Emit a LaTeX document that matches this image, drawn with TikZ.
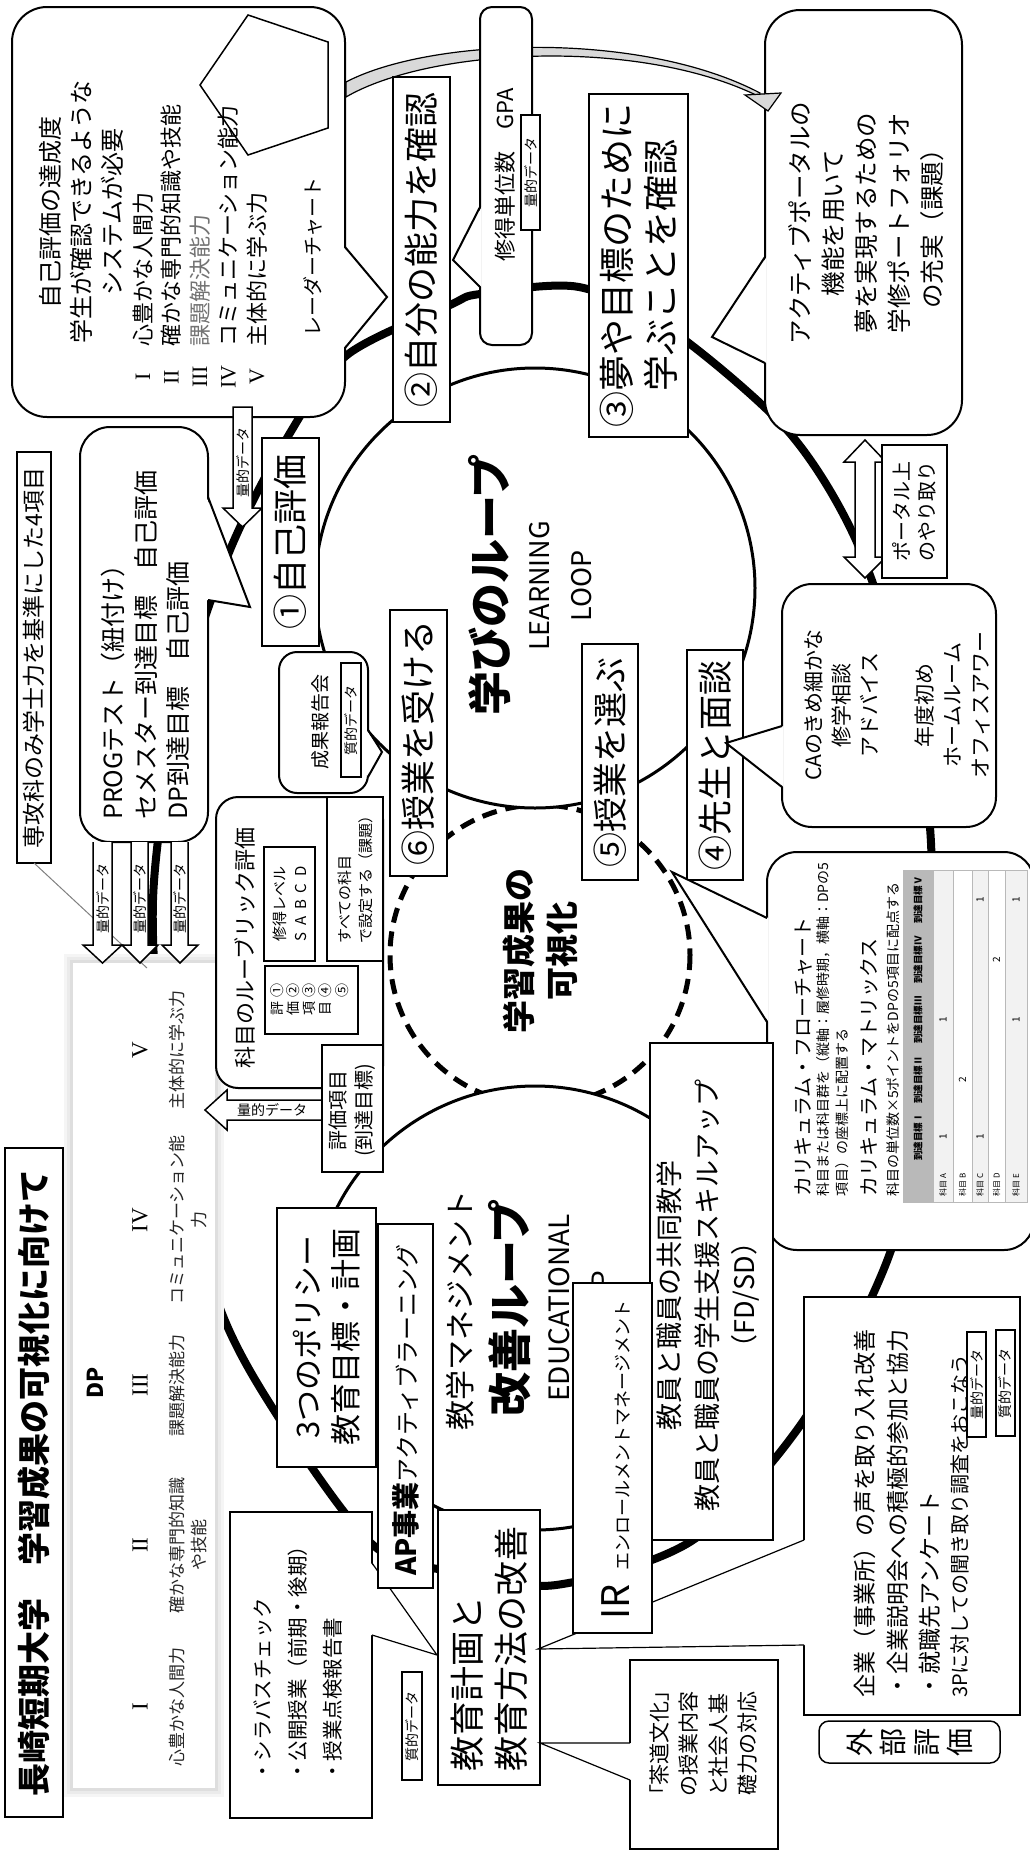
\documentclass[tikz,border=0pt]{standalone}
\usepackage{fontspec}
\setmainfont{Noto Sans CJK JP}
\newfontfamily\rmn{Liberation Serif}
\newcommand\fsz[2]{\fontsize{#1}{#2}\selectfont}
\newcommand\bxn[6][]{\node[bx,#1,minimum width={(#6)-(#4)},minimum height={(#5)-(#3)}] (#2) at ({((#3)+(#5))/2},{((#4)+(#6))/2}) {};}
\tikzset{
 bx/.style={draw,line width=2pt,fill=white,rotate=90,inner sep=0pt,outer sep=0pt},
 tx/.style={rotate=90,inner sep=0pt,align=center},
 pl/.style={line width=2pt,line join=miter},
 tl/.style={line width=1.2pt,line join=miter},
 lbl/.style={draw,line width=1.2pt,fill=white,rotate=90,inner sep=0pt,font=\fsz{14}{16}},
 barrow/.style={draw,line width=1.5pt,fill=white,line join=miter},
 loopln/.style={line width=8pt},
 thincirc/.style={line width=3pt,fill=white},
 dashcirc/.style={line width=5pt,dash pattern=on 15pt off 9pt},
}
\begin{document}
\begin{tikzpicture}[x=1pt,y=-1pt]
\fill[white] (0,0) rectangle (1030,1850);
\useasboundingbox (0,0) rectangle (1030,1850);

% outer thick loop
\draw[loopln] plot[smooth cycle] coordinates {(579,287) (671,330) (787,430) (855,538) (906,690) (931,843) (925,1080) (890,1253) (804,1420) (693,1540) (556,1585) (455,1572) (373,1545) (277,1415) (217,1300) (168,1100) (153,900) (181,700) (230,550) (290,433) (347,355) (450,305) (480,294)};
% circles
\draw[dashcirc] (540,955) circle[radius=150];
\draw[thincirc] (535,588) circle[radius=220];
\draw[thincirc] (535,1308) circle[radius=222];

% texts inside loops
\node[tx,font=\bfseries\fsz{44}{50}] (lt) at (490,585) {学びのループ};
\node[tx,font=\fsz{27}{42}] (ll) at (561,586) {LEARNING\\LOOP};
\node[tx,font=\bfseries\fsz{33}{43}] (vt) at (540,951) {学習成果の\\可視化};
\node[tx,font=\fsz{30}{36}] (em) at (460,1310) {教学マネジメント};
\node[tx,font=\bfseries\fsz{44}{50}] (el) at (510,1308) {改善ループ};
\node[tx,font=\fsz{28}{43}] (ed) at (581,1308) {EDUCATIONAL\\LOOP};

% DP panel with soft shadow
\fill[gray!8] (64,954) rectangle (224,1797);
\fill[gray!16] (67,957) rectangle (221,1794);
\fill[gray!26] (70,960) rectangle (218,1791);
\bxn[draw=none]{dp}{73}{963}{215}{1788}
\node[tx,font=\bfseries\fsz{22}{26}] (dpt) at (95,1383) {DP};
\node[tx,font=\rmn\fsz{23}{26}] (n1) at (140,1707) {I};
\node[tx,font=\rmn\fsz{23}{26}] (n2) at (140,1545) {II};
\node[tx,font=\rmn\fsz{23}{26}] (n3) at (140,1385) {III};
\node[tx,font=\rmn\fsz{23}{26}] (n4) at (140,1220) {IV};
\node[tx,font=\rmn\fsz{23}{26}] (n5) at (140,1050) {V};
\node[tx,font=\fsz{17}{22},text=black!85] (d1) at (177,1707) {心豊かな人間力};
\node[tx,font=\fsz{17}{22},text=black!85] (d2) at (188,1545) {確かな専門的知識\\や技能};
\node[tx,font=\fsz{17}{22},text=black!85] (d3) at (177,1385) {課題解決能力};
\node[tx,font=\fsz{17}{22},text=black!85] (d4) at (188,1220) {コミュニケーション能\\力};
\node[tx,font=\fsz{17}{22},text=black!85] (d5) at (177,1050) {主体的に学ぶ力};

% title
\bxn{title}{5}{1148}{63}{1817}
\node[tx,font=\bfseries\fsz{33}{38}] (titletx) at (34,1483) {長崎短期大学　学習成果の可視化に向けて};

% senkouka box
\bxn[line width=1.5pt]{senko}{17}{452}{51}{863}
\node[tx,font=\fsz{23}{26}] (senkotx) at (34,658) {専攻科のみ学士力を基準にした4項目};
\coordinate (dpnote) at (147,968);
\draw[gray,line width=1pt] (senko.west) -- (dpnote);

% big callout A
\bxn[rounded corners=35pt]{A}{12}{7}{345}{417}
\fill[white] (343.5,247) -- (387,297) -- (343.5,348) -- cycle;
\draw[pl] (345,247) -- (387,297) -- (345,348);
\node[tx,font=\fsz{24}{31}] (a1) at (81,212) {自己評価の達成度\\学生が確認できるような\\システムが必要};
\node[tx,font=\rmn\fsz{22}{28.5}] (a2) at (200,377) {I\\II\\III\\IV\\V};
\node[tx,anchor=west,align=left,font=\fsz{22}{28.5}] (a3) at (200,347) {心豊かな人間力\\確かな専門的知識や技能\\{\color{black!55}課題解決能力}\\コミュニケーション能力\\主体的に学ぶ力};
\draw[line width=1.5pt] (248,15) -- (328,42) -- (328,128) -- (248,155) -- (200,85) -- cycle;
\node[tx,font=\fsz{20}{24}] (a4) at (313,257) {レーダーチャート};

% E callout
\bxn[rounded corners=35pt]{E}{765}{10}{962}{435}
\fill[white] (766.5,257) -- (712,337) -- (766.5,363) -- cycle;
\draw[pl] (765,257) -- (712,337) -- (765,363);
\node[tx,font=\fsz{24.5}{33}] (e1) at (866,223) {アクティブポータルの\\機能を用いて\\夢を実現するための\\学修ポートフォリオ\\の充実（課題）};

% band arrow
\draw[line width=1.2pt,fill=gray!30] (346,82) .. controls (430,38) and (640,30) .. (760,93) -- (760,97) .. controls (640,37) and (430,48) .. (346,97) -- cycle;
\draw[line width=1.2pt,fill=gray!30,line join=miter] (745,95) -- (781,93) -- (768,111) -- cycle;

% GPA
\bxn[rounded corners=12pt]{gpa}{480}{7}{532}{345}
\fill[white] (481.5,207) -- (453,260) -- (481.5,287) -- cycle;
\draw[pl] (480,207) -- (453,260) -- (480,287);
\node[tx,font=\fsz{22}{26}] (gpatx) at (505,175) {修得単位数　GPA};
\node[lbl,minimum width=115,minimum height=19] (gpal) at (530.5,172.5) {量的データ};

% 2 and 3
\bxn{b2}{393}{77}{450}{422}
\node[tx,font=\fsz{35}{42}] (b2t) at (421.5,250) {②自分の能力を確認};
\bxn{b3}{589}{94}{688}{437}
\node[tx,font=\fsz{36}{44}] (b3t) at (638.5,265) {③夢や目標のために\\学ぶことを確認};

% PROG
\bxn[rounded corners=30pt]{prog}{80}{427}{208}{842}
\fill[white] (206.5,497) -- (250,607) -- (206.5,600) -- cycle;
\draw[pl] (208,497) -- (250,607) -- (208,600);
\node[tx,anchor=west,align=left,font=\fsz{25}{32.5}] (progt) at (145.5,820) {PROGテスト（紐付け）\\セメスター到達目標　自己評価\\DP到達目標　自己評価};

% arrow A -> 1
\draw[barrow] (233,407) -- (233,508) -- (223,508) -- (242.5,527) -- (262,508) -- (252,508) -- (252,407) -- cycle;
\node[tx,font=\fsz{14}{16}] (ar1t) at (242.5,462) {量的データ};

% 1
\bxn{b1}{262}{438}{319}{646}
\node[tx,font=\fsz{35}{42}] (b1t) at (290.5,542) {①自己評価};

% seika
\bxn[rounded corners=18pt]{seika}{279}{652}{368}{793}
\fill[white] (366.5,730) -- (382,752) -- (366.5,777) -- cycle;
\draw[pl] (368,730) -- (382,752) -- (368,777);
\node[tx,font=\fsz{19}{22}] (seikat) at (320,722) {成果報告会};
\node[lbl,minimum width=114,minimum height=20] (seikal) at (351,720) {質的データ};

% 6
\bxn{b6}{390}{610}{447}{876}
\node[tx,font=\fsz{35}{42}] (b6t) at (418.5,743) {⑥授業を受ける};

% double arrow and portal
\draw[barrow] (865,440) -- (886,462) -- (875,462) -- (875,557) -- (886,557) -- (865,578) -- (844,557) -- (855,557) -- (855,462) -- (844,462) -- cycle;
\bxn[line width=1.5pt]{portal}{882}{445}{947}{578}
\node[tx,font=\fsz{20}{25}] (portalt) at (914.5,511) {ポータル上\\のやり取り};

% 5 and 4
\bxn{b5}{582}{644}{638}{880}
\node[tx,font=\fsz{35}{42}] (b5t) at (610,762) {⑤授業を選ぶ};
\bxn{b4}{687}{650}{743}{880}
\node[tx,font=\fsz{35}{42}] (b4t) at (715,765) {④先生と面談};

% CA
\bxn[rounded corners=30pt]{ca}{782}{584}{996}{827}
\fill[white] (783.5,726) -- (726,743) -- (783.5,787) -- cycle;
\draw[pl] (782,726) -- (726,743) -- (782,787);
\node[tx,font=\fsz{21}{27.7}] (cat) at (897,705) {CAのきめ細かな\\修学相談\\アドバイス\\[27.7pt]年度初め\\ホームルーム\\オフィスアワー};

% curriculum callout
\bxn[rounded corners=30pt]{cur}{767}{852}{1034}{1250}
\fill[white] (768.5,918) -- (672,872) -- (768.5,1022) -- cycle;
\draw[pl] (767,918) -- (672,872) -- (767,1022);
\node[tx,anchor=west,font=\fsz{20}{24}] (cur1) at (803,1197) {カリキュラム・フローチャート};
\node[tx,anchor=west,align=left,font=\fsz{14}{19}] (cur2) at (833,1197) {科目または科目群を（縦軸：履修時期，横軸：DPの5\\項目）の座標上に配置する};
\node[tx,anchor=west,font=\fsz{20}{24}] (cur3) at (869,1197) {カリキュラム・マトリックス};
\node[tx,anchor=west,font=\fsz{14}{18}] (cur4) at (893,1197) {科目の単位数×5ポイントをDPの5項目に配点する};
\fill[gray!55] (903,870) rectangle (933,1202);
\fill[gray!10] (933,870) rectangle (953,1202);
\fill[gray!10] (972,870) rectangle (988,1202);
\fill[gray!10] (1005,870) rectangle (1027,1202);
\draw[gray!55,line width=1pt] (903,870) rectangle (1027,1202);
\foreach \xx in {933,953,972,988,1005} \draw[gray!55,line width=1pt] (\xx,870) -- (\xx,1202);
\foreach \yy/\rn in {1137/Ⅰ,1080/Ⅱ,1020/Ⅲ,960/Ⅳ,900/Ⅴ} \node[tx,font=\bfseries\fsz{9.5}{11}] (h\yy) at (918,\yy) {到達目標\rn};
\foreach \xx/\ll in {943/A,962.5/B,980/C,996.5/D,1016/E} \node[tx,font=\fsz{8}{10}] (r\ll) at (\xx,1185) {科目 \ll};
\node[tx,font=\fsz{10}{12}] (v1) at (943,1137) {1};
\node[tx,font=\fsz{10}{12}] (v2) at (943,1020) {1};
\node[tx,font=\fsz{10}{12}] (v3) at (962.5,1080) {2};
\node[tx,font=\fsz{10}{12}] (v4) at (980,1137) {1};
\node[tx,font=\fsz{10}{12}] (v5) at (980,900) {1};
\node[tx,font=\fsz{10}{12}] (v6) at (996.5,960) {2};
\node[tx,font=\fsz{10}{12}] (v7) at (1016,1020) {1};
\node[tx,font=\fsz{10}{12}] (v8) at (1016,900) {1};

% rubric box
\bxn[rounded corners=22pt]{rub}{216}{797}{383}{1088}
\node[tx,font=\fsz{22}{26}] (rubt) at (245,948) {科目のルーブリック評価};
\bxn[line width=1.5pt]{rub1}{264}{847}{315}{961}
\node[tx,font=\fsz{15}{21}] (rub1t) at (289.5,904) {修得レベル\\S\hspace{7pt}A\hspace{7pt}B\hspace{7pt}C\hspace{7pt}D};
\bxn[line width=1.5pt]{rub2}{327}{797}{383}{961}
\node[tx,anchor=west,align=left,font=\fsz{15}{21}] (rub2t) at (355,944) {すべての科目\\で設定する（課題）};
\bxn[line width=1.5pt]{rub3}{265}{966}{358}{1034}
\node[tx,font=\fsz{14}{14.3}] (rub3t) at (311,999) {\begin{tabular}{@{}c@{\hspace{4pt}}c@{}}評&①\\価&②\\項&③\\目&④\\ &⑤\end{tabular}};

% eval box and arrow
\draw[barrow] (322,1100) -- (227,1100) -- (227,1090) -- (205,1110) -- (227,1130) -- (227,1120) -- (322,1120);
\node[inner sep=0pt,font=\fsz{14}{16}] (evarrt) at (272,1110) {量的データ};
\bxn{eval}{322}{1045}{383}{1172}
\node[tx,font=\fsz{20}{26}] (evalt) at (352.5,1110) {評価項目\\(到達目標)};

% syllabus callout
\bxn[line width=1.2pt]{syl}{230}{1512}{372}{1818}
\fill[white] (371,1563) -- (437,1655) -- (371,1635) -- cycle;
\draw[tl] (372,1563) -- (437,1655) -- (372,1635);
\node[tx,anchor=west,align=left,font=\fsz{20.5}{35}] (sylt) at (298,1782) {・シラバスチェック\\・公開授業（前期・後期）\\・授業点検報告書};
\node[lbl,minimum width=108,minimum height=20] (syll) at (412,1726) {質的データ};

% policy and AP
\bxn{pol}{277}{1208}{376}{1467}
\node[tx,font=\fsz{31}{38}] (polt) at (327,1337) {3つのポリシー\\教育目標・計画};
\bxn{ap}{378}{1224}{433}{1588}
\node[tx,anchor=west,font=\fsz{24}{28}] (apt) at (406,1576) {{\bfseries\fsz{28}{30}AP事業}アクティブラーニング};

% plan
\bxn{plan}{438}{1510}{540}{1785}
\node[tx,anchor=west,align=left,font=\fsz{35}{44}] (plant) at (489,1772) {教育計画と\\教育方法の改善};

% corp callout
\bxn[line width=1.2pt]{corp}{804}{1297}{1020}{1715}
\fill[white] (805,1540) -- (538,1649) -- (805,1645) -- cycle;
\draw[tl] (804,1540) -- (538,1649) -- (804,1645);
\node[tx,anchor=west,align=left,font=\fsz{23}{32.5}] (corpt) at (897.5,1698) {企業（事業所）の声を取り入れ改善\\・企業説明会への積極的参加と協力\\・就職先アンケート};
\node[tx,anchor=west,font=\fsz{20}{24}] (corpt2) at (960,1698) {3Pに対しての聞き取り調査をおこなう};
\node[lbl,minimum width=105,minimum height=19] (corpl1) at (976.5,1384.5) {量的データ};
\node[lbl,minimum width=106,minimum height=19] (corpl2) at (1005.5,1383) {質的データ};

% FD/SD
\bxn{fd}{650}{1043}{773}{1540}
\node[tx,font=\fsz{27}{37}] (fdt) at (708,1295) {教員と職員の共同教学\\教員と職員の学生支援スキルアップ\\（FD/SD）};

% IR
\bxn{ir}{573}{1283}{652}{1633}
\node[tx,anchor=west,font=\fsz{18}{22}] (irt) at (616,1620) {{\fsz{38}{42}IR}\hspace{14pt}エンロールメントマネージメント};

% sado
\bxn[line width=1.2pt]{sado}{630}{1660}{778}{1849}
\fill[white] (631,1743) -- (540,1743) -- (631,1780) -- cycle;
\draw[tl] (630,1743) -- (540,1743) -- (630,1780);
\node[tx,anchor=west,align=left,font={\fsz{21}{29.5}\addfontfeature{RawFeature=+palt}}] (sadot) at (703.5,1796) {「茶道文化」\\の授業内容\\と社会人基\\礎力の対応};

% gaibu
\bxn[rounded corners=10pt,line width=1.5pt]{gaibu}{819}{1721}{1000}{1763}
\node[tx,font=\fsz{28}{33.5}] (gaibut) at (910,1742) {外\\部\\評\\価};

% DP arrows
\draw[barrow] (93,842) -- (93,945) -- (83,945) -- (102.5,963) -- (122,945) -- (112,945) -- (112,842);
\draw[barrow] (131,842) -- (131,945) -- (122,945) -- (140,963) -- (158,945) -- (148,945) -- (148,842);
\draw[barrow] (171,842) -- (171,945) -- (162,945) -- (180,963) -- (198,945) -- (188,945) -- (188,842);
\node[tx,font=\fsz{14}{16}] (dq1) at (102.5,898) {量的データ};
\node[tx,font=\fsz{14}{16}] (dq2) at (139.5,898) {量的データ};
\node[tx,font=\fsz{14}{16}] (dq3) at (179.5,898) {量的データ};
\end{tikzpicture}
\end{document}
